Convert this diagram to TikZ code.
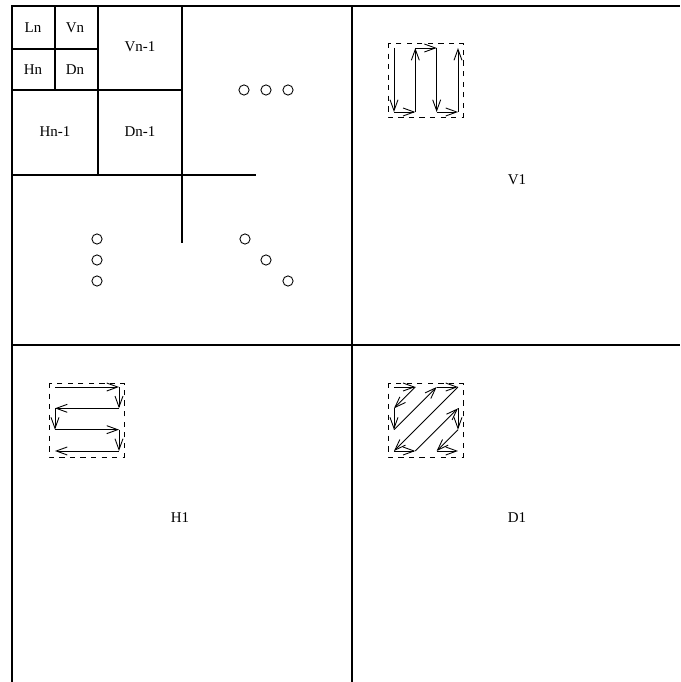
\documentclass[tikz,border=0pt]{standalone}
\usepackage{fontspec}
\setmainfont{Liberation Serif}
\usetikzlibrary{arrows.meta}

\tikzset{
  frame/.style={line width=0.6pt},
  lbl/.style={font=\fontsize{8.5}{10}\selectfont,inner sep=1pt},
  dot/.style={circle,draw,line width=0.5pt,minimum size=5.8pt,inner sep=0pt},
  scanbox/.style={dashed,line width=0.5pt},
  scanarrow/.style={-{Straight Barb[length=2.2mm,width=1.6mm]},line width=0.5pt}
}

\begin{document}
\begin{tikzpicture}[x=0.02cm,y=-0.02cm]
\useasboundingbox (0,0) rectangle (680,682);
% ---------- outer frame ----------
\draw[frame] (12,682) -- (12,6) -- (680,6);
\draw[frame] (352,6) -- (352,682);
\draw[frame] (12,345) -- (680,345);
% ---------- recursive subbands ----------
\draw[frame] (12,175) -- (256,175);
\draw[frame] (182,6) -- (182,243);
\draw[frame] (12,90) -- (182,90);
\draw[frame] (98,6) -- (98,175);
\draw[frame] (12,49) -- (98,49);
\draw[frame] (55,6) -- (55,90);
\node[lbl] (ln)  at (33,28)  {Ln};
\node[lbl] (vn)  at (75,28)  {Vn};
\node[lbl] (hn)  at (33,70)  {Hn};
\node[lbl] (dn)  at (75,70)  {Dn};
\node[lbl] (vn1) at (140,47) {Vn-1};
\node[lbl] (hn1) at (55,132) {Hn-1};
\node[lbl] (dn1) at (140,132) {Dn-1};
% continuation dots
\foreach \x/\y/\n in {244/90/r1, 266/90/r2, 288/90/r3,
                      97/239/d1, 97/260/d2, 97/281/d3,
                      245/239/g1, 266/260/g2, 288/281/g3}{
  \node[dot] (\n) at (\x,\y) {};
}
% ---------- level-1 subbands ----------
\node[lbl] (v1) at (517,180) {V1};
\node[lbl] (h1) at (180,518) {H1};
\node[lbl] (d1) at (517,518) {D1};
% ---------- scan orders (4x4 grid, 21.33 px step) ----------
% V1: column scan
\begin{scope}[shift={(394,48)}]
\draw[scanbox] (-6,-5) rectangle (69,69);
\foreach \a/\b/\c/\d in {0/0/0/3, 0/3/1/3, 1/3/1/0, 1/0/2/0, 2/0/2/3, 2/3/3/3, 3/3/3/0}{
  \draw[scanarrow] (\a*21.33,\b*21.33) -- (\c*21.33,\d*21.33);
}
\end{scope}
% H1: row scan
\begin{scope}[shift={(55,387)}]
\draw[scanbox] (-6,-4) rectangle (69,70);
\foreach \a/\b/\c/\d in {0/0/3/0, 3/0/3/1, 3/1/0/1, 0/1/0/2, 0/2/3/2, 3/2/3/3, 3/3/0/3}{
  \draw[scanarrow] (\a*21.33,\b*21.33) -- (\c*21.33,\d*21.33);
}
\end{scope}
% D1: zigzag scan
\begin{scope}[shift={(394,387)}]
\draw[scanbox] (-6,-4) rectangle (69,70);
\foreach \a/\b/\c/\d in {0/0/1/0, 1/0/0/1, 0/1/0/2, 0/2/2/0, 2/0/3/0, 3/0/0/3,
                         0/3/1/3, 1/3/3/1, 3/1/3/2, 3/2/2/3, 2/3/3/3}{
  \draw[scanarrow] (\a*21.33,\b*21.33) -- (\c*21.33,\d*21.33);
}
\end{scope}
\end{tikzpicture}
\end{document}
